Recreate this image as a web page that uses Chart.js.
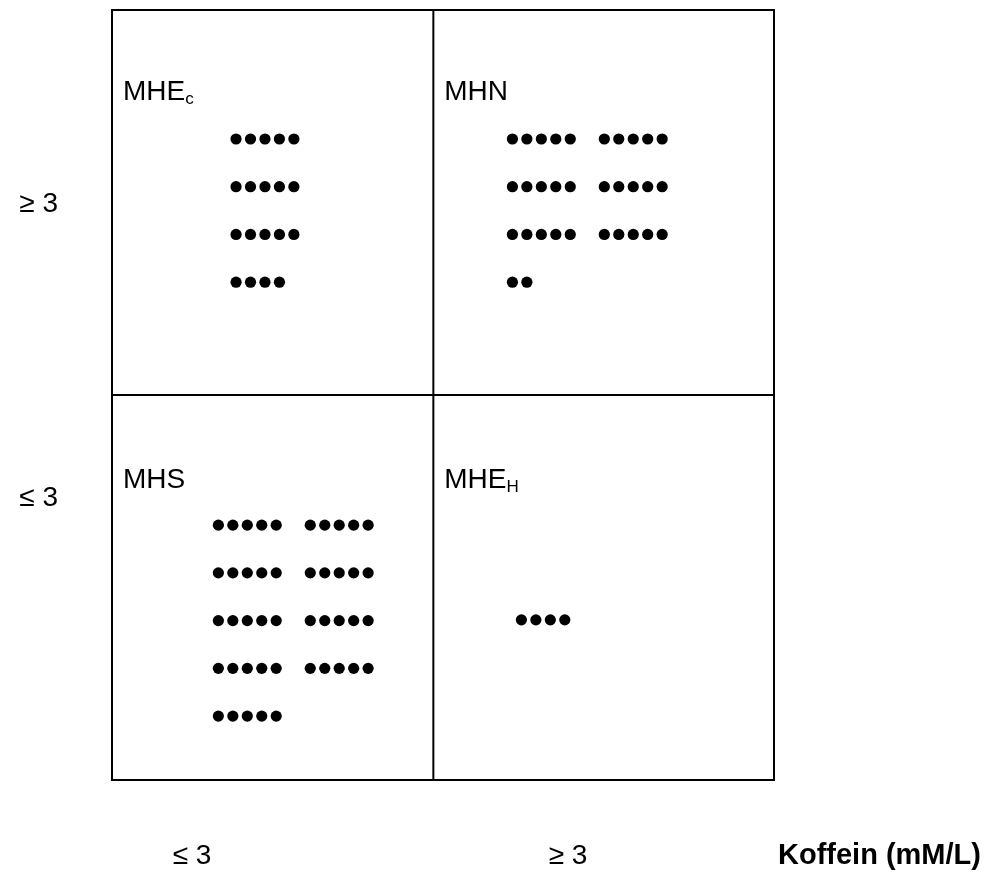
<!DOCTYPE html>
<html>
<head>
<meta charset="utf-8">
<title>Koffein</title>
<script src="https://cdn.jsdelivr.net/npm/chart.js@4.4.1/dist/chart.umd.min.js"></script>
<style>
  html, body { margin: 0; padding: 0; background: #fff; }
  #wrap { width: 992px; height: 877px; position: relative; }
</style>
</head>
<body>
<div id="wrap"><canvas id="quadChart"></canvas></div>
<script>
/* ─── Koffein quadrant dot chart ─────────────────────────────── */

// cells in reading order: top-left, top-right, bottom-left, bottom-right
const groupNames  = ['MHE', 'MHN', 'MHS', 'MHE'];
const groupSubs   = ['c', '', '', 'H'];
const groupCounts = [19, 32, 45, 4];

// tick labels
const xTickLabels = ['≤ 3', '≥ 3'];
const yTickLabels = ['≥ 3', '≤ 3'];
const xTitle      = 'Koffein (mM/L)';

// ── layout (axis units: each cell is 10 wide / 10 tall) ──
const X_MAX = 20.6, Y_MAX = 20, SPLIT = 10;
const xTickPos  = [2.49, 14.19];
const yTickPos  = [14.96, 7.32];
const dotStart  = [[3.86, 16.65], [12.46, 16.65], [3.31, 6.62], [12.74, 4.16]];
const groupsPerRow = [1, 2, 2, 1];
const labelPos  = [[0.34, 17.66], [10.34, 17.66], [0.34, 7.58], [10.34, 7.58]];
const GROUP = 5, DOT_STEP = 0.45, GROUP_STEP = 2.86, ROW_STEP = 1.24;

const FONT = '"Liberation Sans", Arial, sans-serif';

function buildDots(count, start, perRow) {
  const pts = [];
  const rowLen = perRow * GROUP;
  for (let i = 0; i < count; i++) {
    const row = Math.floor(i / rowLen);
    const inRow = i % rowLen;
    const grp = Math.floor(inRow / GROUP);
    const k = inRow % GROUP;
    pts.push({ x: start[0] + grp * GROUP_STEP + k * DOT_STEP, y: start[1] - row * ROW_STEP });
  }
  return pts;
}

const datasets = groupCounts.map((n, i) => ({
  label: groupNames[i] + groupSubs[i],
  data: buildDots(n, dotStart[i], groupsPerRow[i]),
  backgroundColor: '#000',
  borderWidth: 0,
  pointRadius: 5.6,
  pointHoverRadius: 5.6,
}));

// frame, cell dividers, cell labels and the axis title
const quadPlugin = {
  id: 'quadFrame',
  afterDatasetsDraw(chart) {
    const { ctx, scales: { x, y } } = chart;
    const x0 = x.getPixelForValue(0), x1 = x.getPixelForValue(X_MAX), xm = x.getPixelForValue(SPLIT);
    const y0 = y.getPixelForValue(Y_MAX), y1 = y.getPixelForValue(0), ym = y.getPixelForValue(SPLIT);
    ctx.save();
    ctx.strokeStyle = '#000';
    ctx.lineWidth = 2;
    ctx.strokeRect(x0, y0, x1 - x0, y1 - y0);
    ctx.beginPath();
    ctx.moveTo(xm, y0); ctx.lineTo(xm, y1);
    ctx.moveTo(x0, ym); ctx.lineTo(x1, ym);
    ctx.stroke();

    ctx.fillStyle = '#000';
    ctx.textBaseline = 'alphabetic';
    ctx.textAlign = 'left';
    labelPos.forEach((p, i) => {
      const px = x.getPixelForValue(p[0]);
      const py = y.getPixelForValue(p[1]);
      ctx.font = `28px ${FONT}`;
      ctx.fillText(groupNames[i], px, py);
      if (groupSubs[i]) {
        const w = ctx.measureText(groupNames[i]).width;
        ctx.font = `17px ${FONT}`;
        ctx.fillText(groupSubs[i], px + w, py + 4);
      }
    });

    ctx.font = `bold 29px ${FONT}`;
    ctx.textBaseline = 'middle';
    ctx.fillText(xTitle, x1 + 4, x.top + 59 + 16.8);
    ctx.restore();
  }
};

new Chart(document.getElementById('quadChart'), {
  type: 'scatter',
  data: { datasets },
  options: {
    responsive: true,
    maintainAspectRatio: false,
    animation: false,
    layout: { padding: { top: 10, right: 218, left: 0, bottom: 0 } },
    plugins: { legend: { display: false }, tooltip: { enabled: false } },
    scales: {
      x: {
        type: 'linear', min: 0, max: X_MAX,
        grid: { display: false, drawTicks: false },
        border: { display: false },
        afterBuildTicks: s => { s.ticks = xTickPos.map(v => ({ value: v })); },
        afterFit: s => { s.height = 97; s.paddingLeft = 0; s.paddingRight = 0; },
        ticks: {
          padding: 59,
          maxRotation: 0,
          autoSkip: false,
          color: '#000',
          font: { family: FONT, size: 28 },
          callback: (v, i) => xTickLabels[i]
        }
      },
      y: {
        type: 'linear', min: 0, max: Y_MAX,
        grid: { display: false, drawTicks: false },
        border: { display: false },
        afterBuildTicks: s => { s.ticks = yTickPos.map(v => ({ value: v })); },
        afterFit: s => { s.width = 112; s.paddingTop = 0; s.paddingBottom = 0; },
        ticks: {
          padding: 54,
          autoSkip: false,
          color: '#000',
          font: { family: FONT, size: 28 },
          callback: (v, i) => yTickLabels[i]
        }
      }
    }
  },
  plugins: [quadPlugin]
});
</script>
</body>
</html>
